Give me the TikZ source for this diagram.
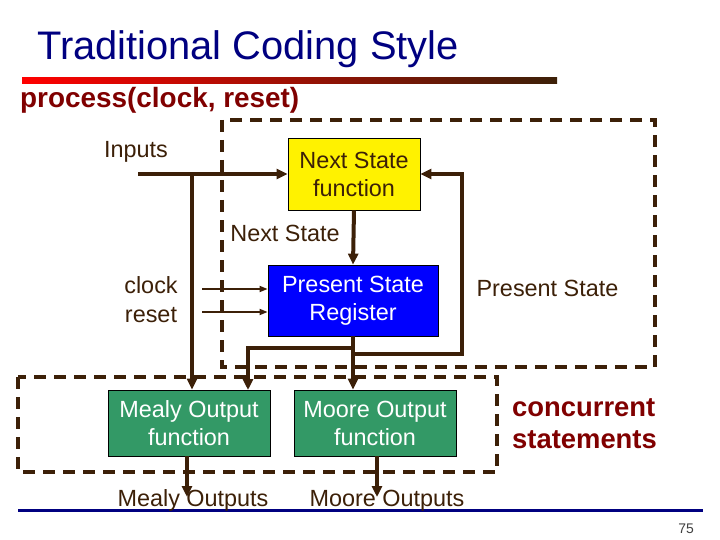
\documentclass[tikz,border=0pt]{standalone}
\usepackage{fontspec}
\setmainfont{Liberation Sans}
\usetikzlibrary{arrows.meta}
\definecolor{brn}{RGB}{60,32,8}
\definecolor{navyc}{RGB}{0,0,128}
\definecolor{dred}{RGB}{128,0,0}
\definecolor{grn}{RGB}{51,153,102}
\definecolor{pblue}{RGB}{0,0,255}
\begin{document}
\begin{tikzpicture}[x=1bp,y=-1bp,
  txt/.style={font=\fontsize{23.5}{28}\selectfont, text=brn, inner sep=0pt},
  bold/.style={anchor=base west, font=\bfseries\fontsize{27.5}{32}\selectfont, text=dred, inner sep=0pt},
  box/.style={draw=black, line width=0.8bp, align=center, inner sep=0pt, font=\fontsize{23.5}{28}\selectfont},
  wire/.style={draw=brn, line width=4bp},
  arr/.style={wire, -{Triangle[length=11bp,width=10bp]}},
  thinarr/.style={draw=brn, line width=1.6bp, -{Triangle[length=8bp,width=6bp]}},
  dbox/.style={draw=brn, line width=4bp, dash pattern=on 12bp off 8bp},
]
\useasboundingbox (0,0) rectangle (720,540);

% title and rules
\node[anchor=base west, font=\fontsize{40}{44}\selectfont, text=navyc, inner sep=0pt] (title) at (37,60) {Traditional Coding Style};
\shade[left color=red, right color=brn] (22,78) rectangle (557,84);
\node[anchor=base west, font=\bfseries\fontsize{28}{32}\selectfont, text=dred, inner sep=0pt] (proc) at (20,108) {process(clock, reset)};
\draw[navyc, line width=3bp] (18,510) -- (703,510);

% dashed regions
\draw[dbox] (222,120) rectangle (655,367);
\draw[dbox] (18,377) rectangle (497,472);

% blocks
\node[box, fill=yellow, text=brn, minimum width=132bp, minimum height=72bp] (nsf) at (354,174) {Next State\\function};
\node[box, fill=pblue, text=white, minimum width=170bp, minimum height=71bp] (psr) at (353,300.5) {Present State\\Register};
\node[box, fill=grn, text=white, minimum width=162bp, minimum height=66bp] (mealy) at (189,423) {Mealy Output\\function};
\node[box, fill=grn, text=white, minimum width=162bp, minimum height=66bp] (moore) at (375,423) {Moore Output\\function};

% labels
\node[txt, anchor=base] (inl) at (136,158) {Inputs};
\node[txt, anchor=base] (nsl) at (285,242) {Next State};
\node[txt, anchor=base] (clk) at (151,293) {clock};
\node[txt, anchor=base] (rst) at (151,322) {reset};
\node[txt, anchor=base] (psl) at (547.5,296) {Present State};
\node[bold] (conc1) at (512,416) {concurrent};
\node[bold] (conc2) at (512,448) {statements};
\node[txt, anchor=base] (mealyo) at (193,506) {Mealy Outputs};
\node[txt, anchor=base] (mooreo) at (387,506) {Moore Outputs};
\node[anchor=base, font=\fontsize{14}{16}\selectfont, text=black!75, inner sep=0pt] (pg) at (686,533) {75};

% connectors
\coordinate (inS) at (138,174);
\coordinate (br) at (192,174);
\coordinate (mi2) at (248,390);
\coordinate (fb) at (462,174);
\coordinate (ck) at (202,289);
\coordinate (rs) at (202,312);
\coordinate (mo1) at (187,497);
\coordinate (mo2) at (377,497);

\draw[arr] (inS) -- (nsf.west);
\draw[arr] (br) -- (br |- mealy.north);
\draw[arr] (nsf.south) -- (psr.north);
\draw[arr] (psr.south) -- (psr.south |- moore.north);
\draw[arr] (psr.south) ++(0,12) -| (mi2);
\draw[arr] (psr.south) ++(0,18) -| (fb) -- (nsf.east);
\draw[thinarr] (ck) -- (ck -| psr.west);
\draw[thinarr] (rs) -- (rs -| psr.west);
\draw[arr] (mo1 |- mealy.south) -- (mo1);
\draw[arr] (mo2 |- moore.south) -- (mo2);
\end{tikzpicture}
\end{document}
